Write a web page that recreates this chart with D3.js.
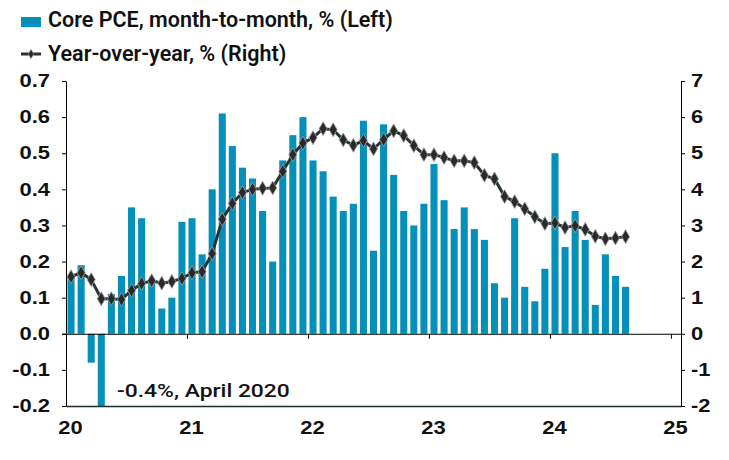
<!DOCTYPE html>
<html><head><meta charset="utf-8">
<script src="https://cdn.jsdelivr.net/npm/d3@7"></script>
<style>body{margin:0;background:#fff} svg{display:block}</style>
</head><body><svg id="c" width="729" height="460"></svg>
<script>
// ---- data ----
const momValues = [
  0.16, 0.19, -0.08, -0.40, 0.11, 0.16, 0.35, 0.32, 0.15, 0.07, 0.10, 0.31,
  0.32, 0.22, 0.40, 0.61, 0.52, 0.46, 0.43, 0.34, 0.20, 0.48, 0.55, 0.60,
  0.48, 0.45, 0.38, 0.34, 0.36, 0.59, 0.23, 0.58, 0.44, 0.34, 0.30, 0.36,
  0.47, 0.37, 0.29, 0.35, 0.29, 0.26, 0.14, 0.10, 0.32, 0.13, 0.09, 0.18,
  0.50, 0.24, 0.34, 0.26, 0.08, 0.22, 0.16, 0.13
];
const yoyValues = [
  1.58, 1.69, 1.50, 0.97, 0.97, 0.95, 1.20, 1.39, 1.47, 1.40, 1.45, 1.53,
  1.69, 1.72, 2.22, 3.17, 3.61, 3.91, 4.00, 4.03, 4.04, 4.50, 4.96, 5.28,
  5.43, 5.68, 5.65, 5.37, 5.22, 5.35, 5.12, 5.38, 5.62, 5.49, 5.21, 4.96,
  4.96, 4.88, 4.79, 4.79, 4.74, 4.39, 4.29, 3.80, 3.66, 3.46, 3.24, 3.05,
  3.07, 2.94, 2.99, 2.89, 2.70, 2.63, 2.65, 2.69
];
const yearTickLabels = ["20", "21", "22", "23", "24", "25"];
const leftTicks = [-0.2, -0.1, 0.0, 0.1, 0.2, 0.3, 0.4, 0.5, 0.6, 0.7];
const rightTicks = [-2, -1, 0, 1, 2, 3, 4, 5, 6, 7];
const legendLabels = ["Core PCE, month-to-month, % (Left)", "Year-over-year, % (Right)"];
const annotationText = "-0.4%, April 2020";

// ---- layout ----
const L = 66, R = 681, T = 81, B = 406;
const barColor = "#0590b9", lineColor = "#253536";
const tickFont = "'Liberation Sans', Arial, sans-serif";
const textFont = "Roboto, 'Liberation Sans', Arial, sans-serif";
const SX = 1.22;

const svg = d3.select("#c");
const monthIdx = momValues.map((_, i) => i);

const x = d3.scaleLinear().domain([0, 61]).range([L, R]);
const yL = d3.scaleLinear().domain([-0.2, 0.7]).range([B, T]);
const yR = d3.scaleLinear().domain([-2, 7]).range([B, T]);
const bw = (x(1) - x(0)) * 0.7;

svg.append("defs").append("clipPath").attr("id", "plot")
  .append("rect").attr("x", L).attr("y", T - 5).attr("width", R - L).attr("height", B - T + 5);

// bars
svg.append("g").attr("clip-path", "url(#plot)")
  .selectAll("rect").data(monthIdx).join("rect")
  .attr("x", i => x(i + 0.5) - bw / 2)
  .attr("width", bw)
  .attr("y", i => yL(Math.max(0, momValues[i])))
  .attr("height", i => Math.abs(yL(momValues[i]) - yL(0)))
  .attr("fill", barColor);

const yearTickVals = yearTickLabels.map((_, k) => k * 12);

// zero line with year ticks
const zeroAx = svg.append("g").attr("transform", `translate(0,${yL(0)})`)
  .call(d3.axisBottom(x).tickValues(yearTickVals).tickSize(5).tickSizeOuter(0).tickFormat(""));
zeroAx.select(".domain").attr("d", `M${L - 4},0.5H${R}`).attr("stroke", "#000");

// bottom line + year labels
const botAx = svg.append("g").attr("transform", `translate(0,${B})`)
  .call(d3.axisBottom(x).tickValues(yearTickVals).tickSize(0).tickPadding(15)
    .tickFormat((d, k) => yearTickLabels[k]));
botAx.select(".domain").attr("stroke", "#1d2b30").attr("stroke-width", 1.4);
botAx.selectAll("text").attr("font-family", tickFont).attr("font-size", 18).attr("font-weight", "bold")
  .attr("fill", "#111").attr("x", 4 / SX).attr("transform", `scale(${SX},1)`);

// left axis
const lAx = svg.append("g").attr("transform", `translate(${L},0)`)
  .call(d3.axisLeft(yL).tickValues(leftTicks).tickSize(4).tickSizeOuter(0).tickFormat(d => d.toFixed(1)));
lAx.select(".domain").attr("stroke", "#000");
lAx.selectAll("text").attr("font-family", tickFont).attr("font-size", 18).attr("font-weight", "bold")
  .attr("fill", "#111").attr("x", -16 / SX).attr("transform", `scale(${SX},1)`);

// right axis
const rAx = svg.append("g").attr("transform", `translate(${R},0)`)
  .call(d3.axisRight(yR).tickValues(rightTicks).tickSize(4).tickSizeOuter(0).tickFormat(d => String(d)));
rAx.select(".domain").attr("stroke", "#000");
rAx.selectAll("text").attr("font-family", tickFont).attr("font-size", 18).attr("font-weight", "bold")
  .attr("fill", "#111").attr("x", 10 / SX).attr("transform", `scale(${SX},1)`);

svg.selectAll(".tick line").attr("stroke", "#000");

// yoy line
const line = d3.line().x(i => x(i + 0.5)).y(i => yR(yoyValues[i]));
svg.append("path").datum(monthIdx).attr("d", line)
  .attr("fill", "none").attr("stroke", lineColor).attr("stroke-width", 3).attr("stroke-linejoin", "round");
const diamond = d3.symbol().type(d3.symbolDiamond).size(55);
svg.append("g").selectAll("path").data(monthIdx).join("path")
  .attr("transform", i => `translate(${x(i + 0.5)},${yR(yoyValues[i])})`)
  .attr("d", diamond).attr("fill", "#2a2a2a").attr("stroke", "#9a9a9a").attr("stroke-width", 0.9);

// annotation
svg.append("text").attr("transform", `translate(117,397) scale(1.27,1)`)
  .attr("font-family", textFont).attr("font-size", 18).attr("fill", "#111").attr("font-weight", 500)
  .text(annotationText);

// legend
const lg = svg.append("g");
lg.append("rect").attr("x", 21).attr("y", 17).attr("width", 20).attr("height", 10).attr("fill", barColor);
lg.append("line").attr("x1", 21).attr("x2", 41).attr("y1", 54).attr("y2", 54)
  .attr("stroke", lineColor).attr("stroke-width", 3);
lg.append("path").attr("transform", "translate(31,54)").attr("d", d3.symbol().type(d3.symbolDiamond).size(26))
  .attr("fill", "#2a2a2a").attr("stroke", "#9a9a9a").attr("stroke-width", 0.6);
lg.selectAll("text").data(legendLabels).join("text")
  .attr("x", 48).attr("y", (d, k) => 27 + k * 33.5)
  .attr("font-family", textFont).attr("font-size", 21.5).attr("font-weight", 600)
  .attr("fill", "#111").text(d => d);
</script></body></html>
